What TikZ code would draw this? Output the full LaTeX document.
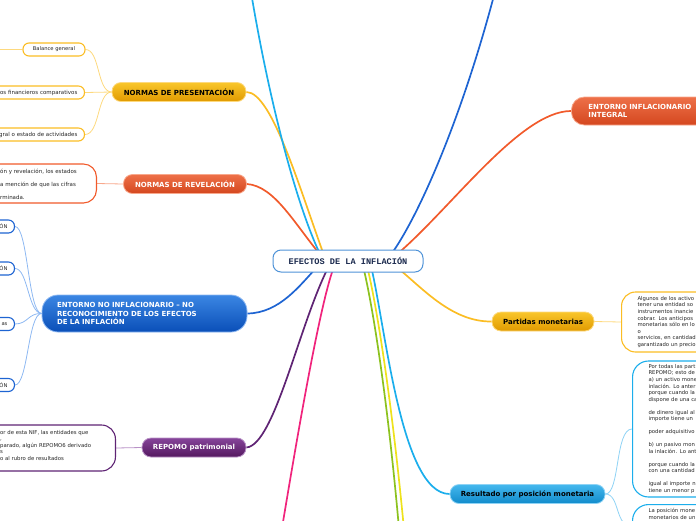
\documentclass[tikz,border=0pt]{standalone}
\usepackage{fontspec}
\setmainfont{DejaVu Sans}
\newfontfamily\ctrfont{Liberation Mono}
\usetikzlibrary{backgrounds}
\definecolor{yelTop}{HTML}{F9C62B}
\definecolor{yelBot}{HTML}{E09A00}
\definecolor{yelLine}{HTML}{FBBD24}
\definecolor{yelLight}{HTML}{FDD97E}
\definecolor{redTop}{HTML}{EE7048}
\definecolor{redBot}{HTML}{D4471F}
\definecolor{redLine}{HTML}{F15A2B}
\definecolor{redLight}{HTML}{F8A88C}
\definecolor{bluTop}{HTML}{3B86E3}
\definecolor{bluBot}{HTML}{0A4FB8}
\definecolor{bluLine}{HTML}{1E64D2}
\definecolor{bluLight}{HTML}{8DB8F2}
\definecolor{purTop}{HTML}{86449A}
\definecolor{purBot}{HTML}{54185F}
\definecolor{purLine}{HTML}{5F2474}
\definecolor{purLight}{HTML}{B891C6}
\definecolor{cyaTop}{HTML}{45B8EE}
\definecolor{cyaBot}{HTML}{118BCB}
\definecolor{cyaLine}{HTML}{1BAEEC}
\definecolor{cyaLight}{HTML}{8FD3F5}
\definecolor{pinkLine}{HTML}{F0247C}
\definecolor{grnLine}{HTML}{8CC21E}
\definecolor{yelTwoLine}{HTML}{EEE21C}
\definecolor{ctrBorder}{HTML}{4F93D8}
\definecolor{ctrText}{HTML}{1B2A4E}
\definecolor{txtGray}{HTML}{262626}
\newcommand\mmsmall{\fontsize{5.2}{6.5}\selectfont}
\newcommand\mmpill{\bfseries\fontsize{7}{8.5}\selectfont}
\begin{document}
\begin{tikzpicture}[x=1pt,y=-1pt,
  ctr/.style={draw=ctrBorder, line width=1pt, fill=white, rounded corners=8pt,
    minimum width=150pt, minimum height=22pt, inner sep=0pt,
    font=\ctrfont\bfseries\fontsize{8.6}{10}\selectfont, text=ctrText},
  pill/.style={rounded corners=9pt, minimum height=19pt, inner sep=0pt,
    line width=0.8pt, font=\mmpill},
  pillY/.style={top color=yelTop, bottom color=yelBot, draw=yelLight, text=black},
  pillR/.style={top color=redTop, bottom color=redBot, draw=redLight, text=white},
  pillB/.style={top color=bluTop, bottom color=bluBot, draw=bluLight, text=white},
  pillP/.style={top color=purTop, bottom color=purBot, draw=purLight, text=white},
  pillC/.style={top color=cyaTop, bottom color=cyaBot, draw=cyaLight, text=black},
  cbox/.style={fill=white, line width=1.1pt, rounded corners=6pt, font=\mmsmall, text=txtGray},
  boxY/.style={cbox, draw=yelLine},
  boxR/.style={cbox, draw=redLine},
  boxB/.style={cbox, draw=bluLine},
  boxP/.style={cbox, draw=purLine},
  boxC/.style={cbox, draw=cyaLine},
  cuttxt/.style={inner sep=0pt, anchor=west, align=left, text=txtGray},
  mainln/.style={line width=1.7pt},
  subln/.style={line width=0.8pt}
]
\useasboundingbox (0,0) rectangle (696,520);

% central node
\node[ctr] (c) at (348,261) {EFECTOS DE LA INFLACIÓN};

% main topics
\node[pill, pillY, minimum width=134pt] (np) at (179,92) {NORMAS DE PRESENTACIÓN};
\node[pill, pillR, minimum width=123pt] (nr) at (185,184) {NORMAS DE REVELACIÓN};
\node[pill, pillB, minimum width=205pt, minimum height=37pt, rounded corners=16pt,
  align=left, text width=175pt] (en) at (144.5,313.5)
  {ENTORNO NO INFLACIONARIO – NO\\RECONOCIMIENTO DE LOS EFECTOS\\DE LA INFLACIÓN};
\node[pill, pillP, minimum width=104pt] (rp) at (194,447.5) {REPOMO patrimonial};
\node[pill, pillR, minimum height=28pt, rounded corners=13pt, text width=130pt,
  align=left, anchor=west, inner xsep=17pt, font=\bfseries\fontsize{7}{7.6}\selectfont]
  (ei) at (571,111) {ENTORNO INFLACIONARIO\\INTEGRAL};
\node[pill, pillY, minimum width=102pt] (pm) at (543,321.5) {Partidas monetarias};
\node[pill, pillC, minimum width=155pt] (rs) at (527.5,494) {Resultado por posición monetaria};

% children of NORMAS DE PRESENTACION
\node[boxY, minimum width=62pt, minimum height=13pt, inner sep=0pt] (bg) at (54,49.5) {Balance general};
\node[boxY, anchor=east, minimum height=13pt, text width=110pt, align=right,
  inner xsep=7pt, inner ysep=0pt, font=\fontsize{5.5}{6.5}\selectfont] (efc) at (85,92.5) {os financieros comparativos};
\node[boxY, anchor=east, minimum height=13pt, text width=110pt, align=right,
  inner xsep=7pt, inner ysep=0pt, font=\fontsize{5.5}{6.5}\selectfont] (gsa) at (85,134.5) {gral o estado de actividades};
\coordinate (bgL) at (-10,49.5);

% child of NORMAS DE REVELACION
\node[boxR, minimum width=130pt, minimum height=39pt, anchor=east, rounded corners=13pt] (rvb) at (97,183.5) {};
\node[cuttxt, font=\fontsize{5.5}{13}\selectfont] (rvt) at (0,184)
  {ón y revelación, los estados\\a mención de que las cifras\\rminada.};

% children of ENTORNO NO INFLACIONARIO
\node[boxB, anchor=east, minimum height=13pt, text width=28pt, align=right, inner xsep=7pt, inner ysep=0pt] (en1) at (15,226.5) {ÓN};
\node[boxB, anchor=east, minimum height=13pt, text width=28pt, align=right, inner xsep=7pt, inner ysep=0pt] (en2) at (15,268.5) {ÓN};
\node[boxB, anchor=east, minimum height=13pt, text width=28pt, align=right, inner xsep=7pt, inner ysep=0pt] (en3) at (15,324) {as};
\node[boxB, anchor=east, minimum height=13pt, text width=28pt, align=right, inner xsep=7pt, inner ysep=0pt] (en4) at (15,385) {ÓN};

% child of REPOMO patrimonial
\node[boxP, minimum width=140pt, minimum height=46pt, anchor=east, rounded corners=14pt] (rpb) at (116,448) {};
\node[cuttxt, font=\fontsize{5.35}{6.5}\selectfont] (rpt) at (0,445)
  {or de esta NIF, las entidades que\\,\\parado, algún REPOMO6 derivado\\s\\o al rubro de resultados};

% child of Partidas monetarias
\node[boxY, anchor=west, minimum height=60pt, text width=100pt, align=left, inner xsep=16pt,
  rounded corners=14pt, font=\fontsize{5.3}{6.6}\selectfont] (pmc) at (621,322)
  {Algunos de los activo\\tener una entidad so\\instrumentos inancie\\cobrar. Los anticipos\\monetarias sólo en lo\\o\\servicios, en cantidad\\garantizado un precio};

% children of Resultado por posicion monetaria
\node[boxC, anchor=west, minimum height=136pt, text width=100pt, align=left, inner xsep=16pt,
  rounded corners=16pt, font=\fontsize{5.3}{6.53}\selectfont] (rs1) at (632,429)
  {Por todas las part\\REPOMO; esto de\\a) un activo mone\\inlación. Lo anter\\porque cuando la\\dispone de una ca\\[6.53pt]de dinero igual al\\importe tiene un\\[6.53pt]poder adquisitivo\\[6.53pt]b) un pasivo mon\\la inlación. Lo ant\\[6.53pt]porque cuando la\\con una cantidad\\[6.53pt]igual al importe n\\tiene un menor p};
\node[boxC, anchor=north west, text width=100pt, align=left, inner xsep=16pt, inner ysep=4pt,
  text depth=30pt, rounded corners=16pt, font=\fontsize{5.3}{6.53}\selectfont] (rs2) at (632,504)
  {La posición mone\\monetarios de un};

% free ends off the canvas
\coordinate (topL) at (249,-20);
\coordinate (topR) at (498,-20);
\coordinate (botP) at (280,540);
\coordinate (botG) at (400,540);
\coordinate (botY) at (405,540);

\begin{scope}[on background layer]
  % main connectors
  \draw[mainln, yelLine] (np.east) .. controls (272,92) and (300,190) .. ([shift={(-23,-3)}]c.center);
  \draw[mainln, redLine] (nr.east) .. controls (275,186) and (295,225) .. ([shift={(-25,-3)}]c.center);
  \draw[mainln, cyaLine] ([shift={(-26,-3)}]c.center) .. controls (300,215) and (270,110) .. (topL);
  \draw[mainln, bluLine] ([shift={(42,-5)}]c.center) .. controls (420,215) and (465,110) .. (topR);
  \draw[mainln, redLine] (ei.west) .. controls (520,111) and (450,210) .. ([shift={(47,-5)}]c.center);
  \draw[mainln, bluLine] (en.east) .. controls (280,313) and (300,285) .. ([shift={(-30,5)}]c.center);
  \draw[mainln, purLine] (rp.east) .. controls (275,445) and (300,320) .. ([shift={(-18,3)}]c.center);
  \draw[mainln, pinkLine] ([shift={(-13,3)}]c.center) .. controls (320,300) and (295,450) .. (botP);
  \draw[mainln, grnLine] ([shift={(14,1)}]c.center) .. controls (372,300) and (388,400) .. (botG);
  \draw[mainln, yelTwoLine] ([shift={(18,1)}]c.center) .. controls (376,300) and (392,400) .. (botY);
  \draw[mainln, cyaLine] ([shift={(22,1)}]c.center) .. controls (385,320) and (400,494) .. (rs.west);
  \draw[mainln, yelLine] ([shift={(47,5)}]c.center) .. controls (420,285) and (450,322) .. (pm.west);
  % sub connectors
  \draw[subln, yelLight] (np.west) .. controls (97,92) and (100,49.5) .. (bg.east);
  \draw[subln, yelLight] (np.west) -- (efc.east);
  \draw[subln, yelLight] (np.west) .. controls (97,92) and (100,134.5) .. (gsa.east);
  \draw[subln, yelLight] (bg.west) -- (bgL);
  \draw[subln, redLight] (nr.west) -- (rvb.east);
  \draw[subln, bluLight] (en.west) .. controls (28,313) and (28,226.5) .. (en1.east);
  \draw[subln, bluLight] (en.west) .. controls (28,313) and (28,268.5) .. (en2.east);
  \draw[subln, bluLight] (en.west) .. controls (28,313) and (28,324) .. (en3.east);
  \draw[subln, bluLight] (en.west) .. controls (28,313) and (28,385) .. (en4.east);
  \draw[subln, purLight] (rp.west) -- (rpb.east);
  \draw[subln, yelLight] (pm.east) -- (pmc.west);
  \draw[subln, cyaLight] (rs.east) .. controls (620,494) and (615,429) .. (rs1.west);
  \draw[subln, cyaLight] (rs.east) .. controls (620,494) and (615,528) .. (rs2.west);
\end{scope}
\end{tikzpicture}
\end{document}
